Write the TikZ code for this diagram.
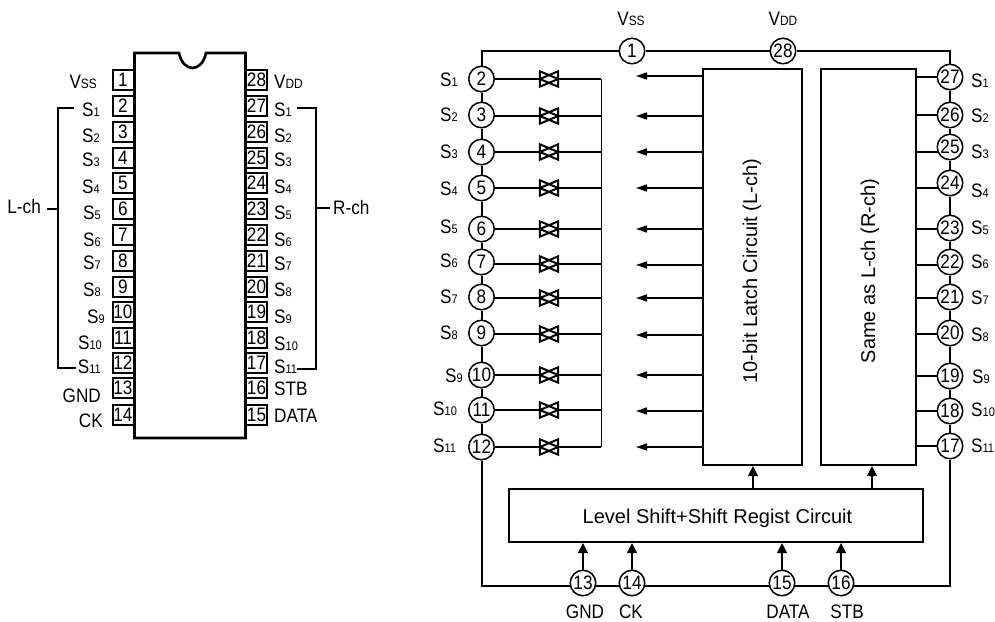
\documentclass[tikz,border=0pt]{standalone}
\usepackage{fontspec}
\setmainfont{Liberation Sans}
\newfontfamily\narrowf[FakeStretch=0.88]{Liberation Sans}
\usetikzlibrary{backgrounds,arrows.meta}
\newcommand{\Sn}[1]{S{\fontsize{12.5}{12}\selectfont #1}}
\newcommand{\Vs}[1]{V{\fontsize{13.5}{12}\selectfont #1}}
\tikzset{
  txt/.style={inner sep=0pt,font=\narrowf\fontsize{19.5}{20}\selectfont},
  blocktxt/.style={inner sep=0pt,font=\fontsize{20}{22}\selectfont},
  pinbox/.style={draw,line width=2pt,fill=white,minimum width=21pt,minimum height=20pt,inner sep=0pt,font=\narrowf\fontsize{19.5}{20}\selectfont},
  pincirc/.style={draw,circle,line width=1.5pt,fill=white,minimum size=25.5pt,inner sep=0pt,font=\narrowf\fontsize{19.5}{20}\selectfont},
  blockbox/.style={draw,line width=2.2pt,fill=white,inner sep=0pt},
  gate/.style={minimum width=18pt,minimum height=15pt,inner sep=0pt},
  rail/.style={line width=2pt},
  wire/.style={line width=1.4pt},
  busline/.style={line width=0.9pt},
  smallarrow/.style={line width=1.4pt,-{Triangle[length=11pt,width=7pt]}},
  bigarrow/.style={line width=1.4pt,-{Triangle[length=10pt,width=10pt]}},
  outline/.style={line width=2.7pt,line join=miter}
}
\begin{document}
\begin{tikzpicture}[x=1pt,y=-1pt]
\useasboundingbox (0,0) rectangle (995,621);
% ---- package outline
\foreach \n/\y in {1/80,2/106,3/132,4/158,5/183,6/209,7/235,8/261,9/287,10/312,11/338,12/363,13/388,14/415}
  \node[pinbox] (pl\n) at (123,\y) {\n};
\foreach \n/\y in {28/80,27/106,26/132,25/158,24/183,23/209,22/235,21/261,20/287,19/312,18/338,17/363,16/388,15/415}
  \node[pinbox] (pr\n) at (256.5,\y) {\n};
\filldraw[outline,fill=white] (134.5,53) -- (179,53) .. controls (181,63) and (187,68) .. (192.5,68)
  .. controls (198,68) and (204,63) .. (206,53) -- (245.5,53) -- (245.5,438) -- (134.5,438) -- cycle;
% package labels, left
\node[txt,anchor=east] (tlV) at (97,82) {\Vs{SS}};
\foreach \n/\x/\y in {1/100/110,2/100/136,3/100/160,4/100/187,5/101/213,6/101/240,7/101/263,8/101/290,9/105/317,10/102/343,11/101/367}
  \node[txt,anchor=east] (tl\n) at (\x,\y) {\Sn{\n}};
\node[txt,anchor=east] (tlG) at (101,396) {GND};
\node[txt,anchor=east] (tlC) at (103,421) {CK};
% package labels, right
\node[txt,anchor=west] (trV) at (274,82) {\Vs{DD}};
\foreach \n/\y in {1/110,2/136,3/160,4/187,5/213,6/240,7/264,8/290,9/317,10/344,11/367}
  \node[txt,anchor=west] (tr\n) at (274,\y) {\Sn{\n}};
\node[txt,anchor=west] (trS) at (274,389) {STB};
\node[txt,anchor=west] (trD) at (274,416) {DATA};
% brackets
\node[txt,anchor=east] (Lch) at (41,207) {L-ch};
\node[txt,anchor=west] (Rch) at (333,208) {R-ch};
\coordinate (bl1) at (74,108);
\coordinate (bl2) at (76,368);
\coordinate (blm) at (58,209);
\coordinate (br1) at (297,108);
\coordinate (br2) at (297,369);
\coordinate (brm) at (316,208);
\draw[wire] (bl1) -- (blm |- bl1) -- (blm |- bl2) -- (bl2);
\draw[wire] (Lch.east) ++(6,2) -- (blm);
\draw[wire] (br1) -- (brm |- br1) -- (brm |- br2) -- (br2);
\draw[wire] (Rch.west) ++(-3,0) -- (brm);
% ---- block diagram: pin circles
\node[pincirc] (c1) at (632,51) {1};
\node[pincirc] (c28) at (783,51) {28};
\foreach \n/\y in {2/79,3/115,4/152,5/188,6/229,7/262,8/297,9/333,10/375,11/410,12/447}
  \node[pincirc] (c\n) at (481.5,\y) {\n};
\foreach \n/\y in {27/77,26/115,25/147,24/183,23/228,22/262,21/297,20/333,19/376,18/411,17/446}
  \node[pincirc] (c\n) at (950,\y) {\n};
\node[pincirc] (c13) at (583,583) {13};
\node[pincirc] (c14) at (632,583) {14};
\node[pincirc] (c15) at (782,583) {15};
\node[pincirc] (c16) at (841,583) {16};
% labels
\node[txt] (tV) at (631,19) {\Vs{SS}};
\node[txt] (tD) at (783,19) {\Vs{DD}};
\foreach \n/\x/\y in {1/440/80,2/440/115,3/440/152,4/440/189,5/440/227,6/440/261,7/440/297,8/440/333,9/445/376,10/433/409,11/433/446}
  \node[txt,anchor=west] (ls\n) at (\x,\y) {\Sn{\n}};
\foreach \n/\x/\y in {1/971/81,2/971/116,3/971/152,4/971/191,5/971/228,6/971/262,7/971/298,8/971/335,9/972/377,10/971/410,11/971/446}
  \node[txt,anchor=west] (rs\n) at (\x,\y) {\Sn{\n}};
\node[txt] (bG) at (585,612) {GND};
\node[txt] (bC) at (631,612) {CK};
\node[txt] (bD) at (788,612) {DATA};
\node[txt] (bS) at (847,612) {STB};
% blocks
\node[blockbox,minimum width=99pt,minimum height=396pt] (latch) at (752.5,267) {};
\node[blocktxt,rotate=90] (latchT) at (752,271) {10-bit Latch Circuit (L-ch)};
\node[blockbox,minimum width=95pt,minimum height=396pt] (same) at (868.5,267) {};
\node[blocktxt,rotate=90] (sameT) at (870,271) {Same as L-ch (R-ch)};
\node[blockbox,minimum width=414pt,minimum height=53pt] (level) at (716,515.5) {};
\node[blocktxt] (levelT) at (717.5,518) {Level Shift+Shift Regist Circuit};
% switches
\foreach \n/\y in {2/79,3/116,4/152,5/188,6/229,7/264,8/298,9/334,10/375,11/410,12/447}{
  \node[gate] (sw\n) at (549,\y) {};
  \coordinate (bus\n) at (601,\y);
  \begin{scope}[on background layer]
    \draw[wire] (c\n.center |- sw\n) -- (sw\n.west);
    \draw[wire] (sw\n.east) -- (bus\n);
  \end{scope}
  \draw[line width=2pt,line join=miter,fill=white] (sw\n.north west) -- (sw\n.south west) -- (sw\n.east) -- cycle;
  \draw[line width=2pt,line join=miter] (sw\n.north east) -- (sw\n.south east) -- (sw\n.west) -- cycle;
}
\draw[busline] (bus2) -- (bus12);
% arrows from the latch
\foreach \n/\y in {2/76,3/116,4/152,5/188,6/229,7/265,8/298,9/335,10/375,11/411,12/447}{
  \coordinate (tip\n) at (636,\y);
  \draw[smallarrow] (latch.west |- tip\n) -- (tip\n);
}
% stubs of the R channel
\begin{scope}[on background layer]
\foreach \n/\y in {27/77,26/115,25/152,24/188,23/229,22/265,21/298,20/334,19/376,18/411,17/446}{
  \coordinate (st\n) at (916,\y);
  \draw[wire] (st\n) -- (st\n -| c\n.center);
}
% rails
\draw[rail] (c2) -- (c2 |- c1) -- (c1) -- (c28) -- (c27 |- c28) -- (c27);
\draw[rail] (c12) -- (c12 |- 0,586) -- (c17 |- 0,586) -- (c17);
\foreach \a/\b in {2/3,3/4,4/5,5/6,6/7,7/8,8/9,9/10,10/11,11/12,27/26,26/25,25/24,24/23,23/22,22/21,21/20,20/19,19/18,18/17}
  \draw[rail] (c\a) -- (c\b);
\end{scope}
% arrows into the shift register and latches
\foreach \n in {13,14,15,16}
  \draw[bigarrow] (c\n.north) -- (c\n.north |- level.south);
\coordinate (ua) at (753,489);
\coordinate (ub) at (872,489);
\draw[bigarrow] (ua) -- (ua |- latch.south);
\draw[bigarrow] (ub) -- (ub |- same.south);
\end{tikzpicture}
\end{document}
